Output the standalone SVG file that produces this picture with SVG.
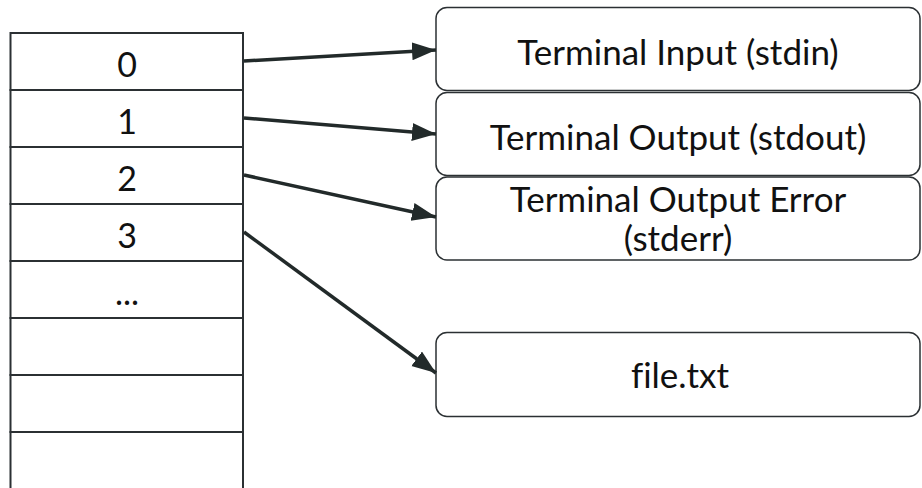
<svg xmlns="http://www.w3.org/2000/svg" width="922" height="488" viewBox="0 0 922 488">
<style>
.cell{fill:#fff;stroke:#2b3033;stroke-width:2}
.box{fill:#fff;stroke:#2b3033;stroke-width:1.5}
.t{font-family:Lato,"Liberation Sans",sans-serif;font-size:35px;fill:#111;text-anchor:middle;font-variant-ligatures:none}
.n{font-size:34px}
.c{stroke:#222a2a;stroke-width:3.5;fill:none;marker-end:url(#ah)}
</style>
<defs>
<marker id="ah" markerUnits="userSpaceOnUse" markerWidth="26" markerHeight="20" refX="24" refY="9" orient="auto">
<path d="M0,0 L24,9 L0,18 Z" fill="#222a2a"/>
</marker>
</defs>
<rect width="922" height="488" fill="#fff"/>
<g id="table">
<rect class="cell" x="10.5" y="33" width="232.5" height="57"/>
<rect class="cell" x="10.5" y="90" width="232.5" height="57"/>
<rect class="cell" x="10.5" y="147" width="232.5" height="57"/>
<rect class="cell" x="10.5" y="204" width="232.5" height="57"/>
<rect class="cell" x="10.5" y="261" width="232.5" height="57"/>
<rect class="cell" x="10.5" y="318" width="232.5" height="57"/>
<rect class="cell" x="10.5" y="375" width="232.5" height="57"/>
<rect class="cell" x="10.5" y="432" width="232.5" height="60"/>
<text class="t n" x="127" y="77">0</text>
<text class="t n" x="127" y="134">1</text>
<text class="t n" x="127" y="191">2</text>
<text class="t n" x="127" y="248">3</text>
<text class="t n" x="127" y="305">...</text>
</g>
<g id="stdin">
<rect class="box" x="436" y="7.5" width="484" height="83" rx="11"/>
<text class="t" x="678" y="65">Terminal Input (stdin)</text>
</g>
<g id="stdout">
<rect class="box" x="436" y="92.5" width="484" height="83" rx="11"/>
<text class="t" x="678" y="150">Terminal Output (stdout)</text>
</g>
<g id="stderr">
<rect class="box" x="436" y="177" width="484" height="83" rx="11"/>
<text class="t" x="678" y="212">Terminal Output Error</text>
<text class="t" x="678" y="251">(stderr)</text>
</g>
<g id="file">
<rect class="box" x="436" y="332.5" width="484" height="84" rx="11"/>
<text class="t" x="680" y="388">file.txt</text>
</g>
<g id="connectors">
<line class="c" x1="244" y1="61" x2="436" y2="50"/>
<line class="c" x1="244" y1="118" x2="436" y2="134"/>
<line class="c" x1="244" y1="175" x2="436" y2="217"/>
<line class="c" x1="244" y1="232" x2="436" y2="373"/>
</g>
</svg>
